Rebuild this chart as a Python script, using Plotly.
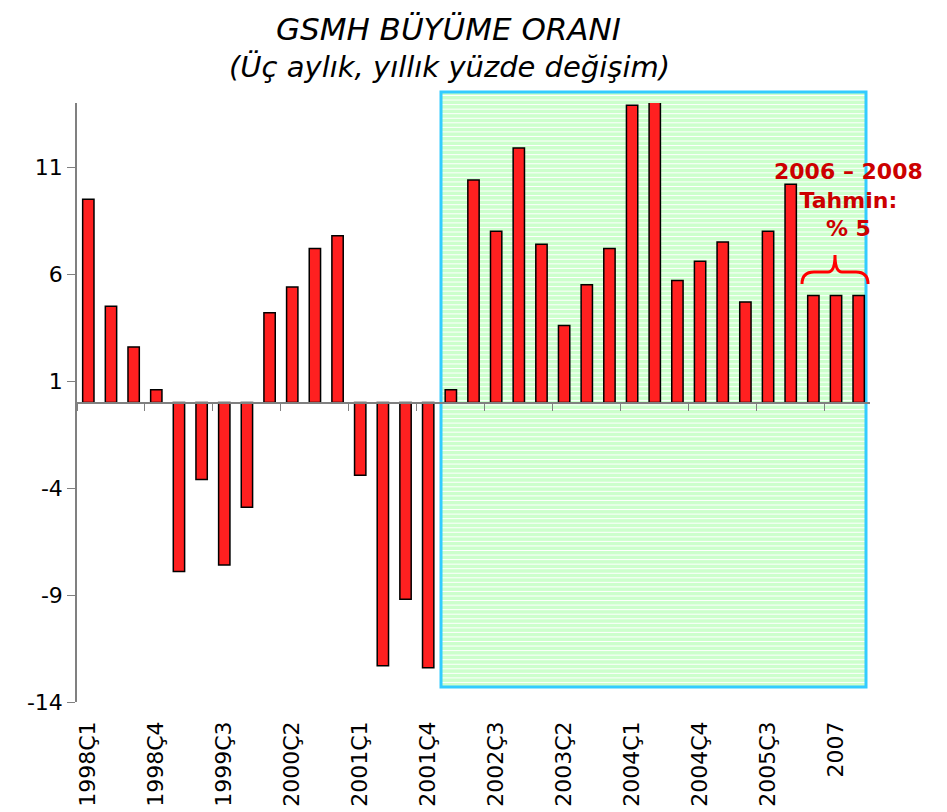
import plotly.graph_objects as go

# ---------------- data ----------------
categories = [
    "1998Ç1", "1998Ç2", "1998Ç3", "1998Ç4",
    "1999Ç1", "1999Ç2", "1999Ç3", "1999Ç4",
    "2000Ç1", "2000Ç2", "2000Ç3", "2000Ç4",
    "2001Ç1", "2001Ç2", "2001Ç3", "2001Ç4",
    "2002Ç1", "2002Ç2", "2002Ç3", "2002Ç4",
    "2003Ç1", "2003Ç2", "2003Ç3", "2003Ç4",
    "2004Ç1", "2004Ç2", "2004Ç3", "2004Ç4",
    "2005Ç1", "2005Ç2", "2005Ç3", "2005Ç4",
    "2006", "2007", "2008",
]
growth = [
    9.5, 4.5, 2.6, 0.6,
    -7.9, -3.6, -7.6, -4.9,
    4.2, 5.4, 7.2, 7.8,
    -3.4, -12.3, -9.2, -12.4,
    0.6, 10.4, 8.0, 11.9,
    7.4, 3.6, 5.5, 7.2,
    13.9, 14.2, 5.7, 6.6,
    7.5, 4.7, 8.0, 10.2,
    5.0, 5.0, 5.0,
]
y_ticks = [-14, -9, -4, 1, 6, 11]
y_tick_text = ["-14", "-9", "-4", "1", "6", "11"]
label_step = 3
Y_MIN, Y_MAX = -14, 14

title_text = "GSMH BÜYÜME ORANI"
subtitle_text = "(Üç aylık, yıllık yüzde değişim)"
forecast_text = "2006 – 2008<br>Tahmin:<br>% 5"

# ---------------- layout geometry (page pixels) ----------------
PAGE_W, PAGE_H = 947, 812
OFF = 8                      # default body margin of the page
W, H = PAGE_W - OFF, PAGE_H - OFF
PL, PR, PT, PB = 77, 870, 103, 702   # plot area on the page
ML, MR = PL - OFF, (PAGE_W - PR)
MT, MB = PT - OFF, PAGE_H - PB
PW, PH = PR - PL, PB - PT


def px(xp):
    return (xp - PL) / PW


def py(yp):
    return (PB - yp) / PH


idx = list(range(len(categories)))
tick_idx = idx[::label_step]
tick_lbl = [categories[i] for i in tick_idx]
boundary_ticks = [i - 0.5 for i in idx[label_step::label_step]] + [-0.5]
x_range = [-0.5, len(categories) - 0.5]
zero_pos = (0 - Y_MIN) / (Y_MAX - Y_MIN)

FONT = "DejaVu Sans"
GRAY = "#808080"

fig = go.Figure()
fig.add_trace(go.Bar(
    x=idx, y=growth, width=0.5,
    marker=dict(color="#ff2020", line=dict(color="black", width=1.5)),
    cliponaxis=False, showlegend=False, hoverinfo="skip",
))
# invisible trace so the zero-crossing axis is drawn
fig.add_trace(go.Scatter(x=x_range, y=[0, 0], xaxis="x2", mode="lines",
                         line=dict(width=0), showlegend=False, hoverinfo="skip"))

shapes = []
# green highlighted region with white stripes
rx0, rx1, ry0, ry1 = 441, 866, 92, 687
shapes.append(dict(type="rect", xref="paper", yref="paper",
                   x0=px(rx0), x1=px(rx1), y0=py(ry1), y1=py(ry0),
                   fillcolor="#ccffcc", line=dict(width=0), layer="below"))
yy = ry0 + 3.5
while yy < ry1 - 1:
    shapes.append(dict(type="line", xref="paper", yref="paper",
                       x0=px(rx0), x1=px(rx1), y0=py(yy), y1=py(yy),
                       line=dict(color="white", width=1), layer="below"))
    yy += 4.55
shapes.append(dict(type="rect", xref="paper", yref="paper",
                   x0=px(rx0), x1=px(rx1), y0=py(ry1), y1=py(ry0),
                   fillcolor="rgba(0,0,0,0)", line=dict(color="#33ccff", width=3),
                   layer="below"))

# curly brace over forecast bars
pts = [(802, 284), (802, 272), (814, 272), (828, 272), (835, 272), (835, 255),
       (835, 272), (842, 272), (856, 272), (868, 272), (868, 284)]
P = [(px(a), py(b)) for a, b in pts]
path = (f"M {P[0][0]},{P[0][1]} Q {P[1][0]},{P[1][1]} {P[2][0]},{P[2][1]} "
        f"L {P[3][0]},{P[3][1]} Q {P[4][0]},{P[4][1]} {P[5][0]},{P[5][1]} "
        f"Q {P[6][0]},{P[6][1]} {P[7][0]},{P[7][1]} "
        f"L {P[8][0]},{P[8][1]} Q {P[9][0]},{P[9][1]} {P[10][0]},{P[10][1]}")
shapes.append(dict(type="path", xref="paper", yref="paper", path=path,
                   line=dict(color="#ff0000", width=3)))

annotations = [
    dict(text=title_text, xref="paper", yref="paper", x=px(448), y=py(29),
         xanchor="center", yanchor="middle", showarrow=False,
         font=dict(family=FONT, size=31, color="black", style="italic")),
    dict(text=subtitle_text, xref="paper", yref="paper", x=px(449), y=py(67),
         xanchor="center", yanchor="middle", showarrow=False,
         font=dict(family=FONT, size=29, color="black", style="italic")),
    dict(text=forecast_text, xref="paper", yref="paper", x=px(848), y=py(200),
         xanchor="center", yanchor="middle", showarrow=False,
         font=dict(family=FONT, size=22, color="#cc0000", weight="bold")),
]

fig.update_layout(
    width=W, height=H,
    margin=dict(l=ML, r=MR, t=MT, b=MB, pad=0, autoexpand=False),
    paper_bgcolor="white", plot_bgcolor="rgba(0,0,0,0)",
    bargap=0.5,
    xaxis=dict(range=x_range, tickmode="array", tickvals=tick_idx, ticktext=tick_lbl,
               tickangle=-90, showline=False, showgrid=False, zeroline=False,
               ticks="", ticklabelstandoff=14, automargin=False,
               tickfont=dict(family=FONT, size=22, color="black")),
    xaxis2=dict(range=x_range, overlaying="x", anchor="free", position=zero_pos,
                showline=True, linecolor=GRAY, linewidth=1.5,
                ticks="outside", tickvals=boundary_ticks, ticklen=8,
                tickcolor=GRAY, tickwidth=1.2, automargin=False,
                showticklabels=False, showgrid=False, zeroline=False),
    yaxis=dict(range=[Y_MIN, Y_MAX], tickmode="array", tickvals=y_ticks,
               ticktext=y_tick_text,
               showline=True, linecolor=GRAY, linewidth=1.5, automargin=False,
               ticks="outside", ticklen=8, tickcolor=GRAY, tickwidth=1.2,
               showgrid=False, zeroline=False,
               tickfont=dict(family=FONT, size=22, color="black")),
    shapes=shapes, annotations=annotations,
)

fig.write_html("out.html")
